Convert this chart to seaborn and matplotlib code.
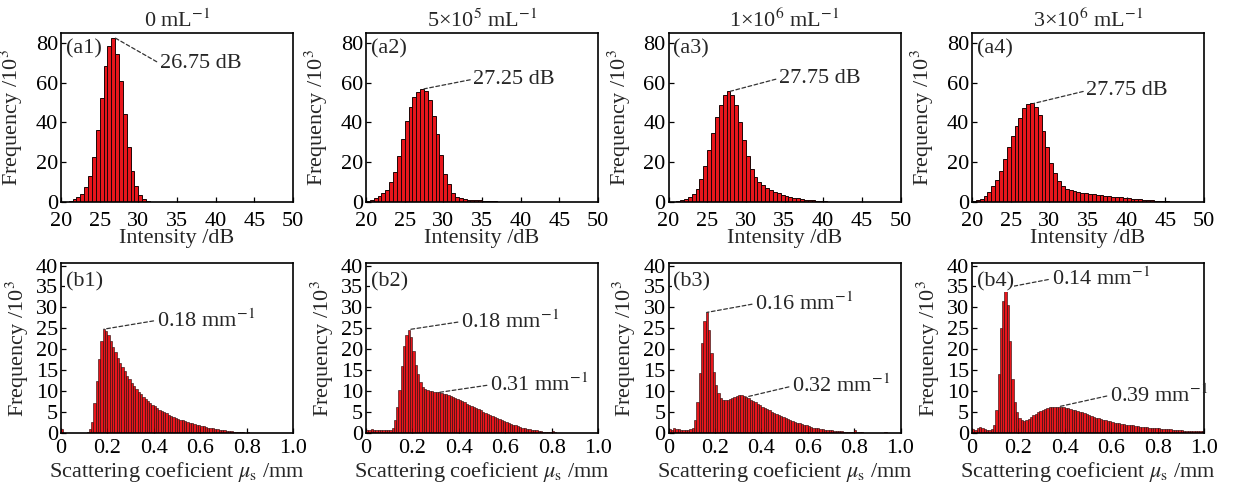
import numpy as np
import pandas as pd
import matplotlib
matplotlib.use("Agg")
import matplotlib.pyplot as plt
import seaborn as sns

# ---------------- data ----------------
titles = ["0 mL$^{-1}$", "5×10$^{5}$ mL$^{-1}$", "1×10$^{6}$ mL$^{-1}$", "3×10$^{6}$ mL$^{-1}$"]
top_tags = ["(a1)", "(a2)", "(a3)", "(a4)"]
bot_tags = ["(b1)", "(b2)", "(b3)", "(b4)"]

# intensity histograms: 0.5 dB bins starting at 20 dB (counts / 10^3)
a1 = [0, 0.2, 0.6, 1.4, 2.4, 4.0, 7.4, 13.0, 22.4, 36.2, 52.2, 68.5, 78.5, 82.5, 74.5, 60.7,
      44.5, 27.6, 15.6, 8.0, 3.7, 1.4, 0.6, 0.2]
a2 = [0.5, 0.8, 1.8, 3.0, 4.3, 6.2, 10.0, 15.2, 23.3, 31.8, 40.7, 48.0, 52.7, 55.4, 56.9, 55.7,
      51.4, 43.2, 34.0, 23.6, 14.0, 9.2, 4.7, 2.7, 1.8, 1.3, 1.1, 1.0, 0.9, 0.8, 0.7, 0.6, 0.5, 0.3, 0.1]
a3 = [0, 0.2, 0.5, 1.0, 1.7, 2.7, 3.8, 6.5, 11.4, 18.2, 26.4, 34.8, 42.8, 48.9, 53.6, 55.7,
      54.0, 48.9, 40.3, 31.1, 23.1, 16.4, 12.4, 10.0, 8.4, 7.0, 6.0, 5.2, 4.4, 3.7, 3.2, 2.7,
      2.2, 1.8, 1.5, 1.2, 1.0, 0.8, 0.7, 0.5, 0.3, 0.2, 0.1]
a4 = [0.3, 0.8, 1.7, 3.0, 5.0, 8.0, 11.0, 15.7, 21.6, 27.5, 33.3, 38.4, 42.2, 47.2, 49.2, 49.6,
      47.9, 44.0, 35.8, 27.5, 19.4, 14.4, 10.4, 8.2, 6.7, 5.9, 5.4, 5.0, 4.7, 4.4, 4.2, 4.0,
      3.7, 3.5, 3.2, 3.0, 2.7, 2.5, 2.3, 2.1, 1.9, 1.7, 1.5, 1.3, 1.1, 1.0, 0.8, 0.7, 0.5,
      0.4, 0.3, 0.2, 0.1]

# scattering coefficient histograms: 0.01 mm^-1 bins from 0 to 1 (counts / 10^3)
b1 = [0.9, 0, 0, 0, 0, 0, 0, 0, 0, 0, 0, 0.3, 1.0, 2.6, 7.2, 12.4, 17.7, 22.0, 24.8, 24.4,
      23.3, 22.0, 20.6, 19.3, 18.0, 16.8, 15.7, 14.7, 13.7, 12.8, 12.0, 11.2, 10.5, 9.9, 9.3,
      8.7, 8.2, 7.7, 7.2, 6.8, 6.4, 6.0, 5.6, 5.3, 5.0, 4.7, 4.4, 4.1, 3.9, 3.6, 3.4, 3.2,
      3.0, 2.8, 2.6, 2.4, 2.3, 2.1, 2.0, 1.8, 1.7, 1.6, 1.4, 1.3, 1.2, 1.1, 1.0, 0.9, 0.8,
      0.7, 0.6, 0.5, 0.45, 0.4, 0.35, 0.3, 0.25, 0.2, 0.15, 0.1, 0.3, 0.05, 0, 0, 0, 0, 0,
      0, 0, 0, 0, 0, 0, 0, 0, 0, 0, 0, 0, 0]
b2 = [0.8, 0.6, 0.9, 0.7, 0.6, 0.6, 0.6, 0.6, 0.6, 0.7, 0.8, 1.2, 3.0, 6.2, 10.2, 15.9, 20.7,
      23.5, 24.7, 23.0, 19.5, 16.3, 14.0, 12.2, 11.0, 10.4, 10.2, 10.1, 10.0, 9.9, 9.8, 9.7,
      9.5, 9.4, 9.2, 9.0, 8.8, 8.6, 8.4, 8.2, 7.9, 7.6, 7.3, 7.0, 6.7, 6.4, 6.2, 5.9, 5.7,
      5.4, 5.1, 4.8, 4.6, 4.3, 4.0, 3.8, 3.5, 3.3, 3.0, 2.8, 2.6, 2.4, 2.2, 2.0, 1.8, 1.6,
      1.5, 1.3, 1.1, 1.0, 0.9, 0.8, 0.7, 0.6, 0.5, 0.4, 0.35, 0.3, 0.25, 0.2, 0.5, 0.15, 0.1,
      0.1, 0.05, 0, 0, 0, 0, 0, 0, 0, 0, 0, 0, 0, 0, 0, 0, 0]
b3 = [0.9, 0.7, 1.2, 1.0, 0.9, 0.8, 0.7, 0.7, 0.8, 1.0, 1.3, 3.0, 7.4, 14.3, 21.5, 26.8, 28.8,
      24.5, 19.0, 14.5, 11.5, 9.6, 8.3, 7.8, 7.8, 8.0, 8.2, 8.4, 8.6, 8.9, 9.0, 9.0, 8.9, 8.6,
      8.3, 8.0, 7.7, 7.4, 7.0, 6.6, 6.3, 6.0, 5.7, 5.4, 5.1, 4.8, 4.5, 4.3, 4.0, 3.8, 3.6,
      3.3, 3.1, 2.9, 2.7, 2.5, 2.3, 2.1, 1.9, 1.8, 1.6, 1.5, 1.3, 1.2, 1.1, 1.0, 0.9, 0.8,
      0.75, 0.7, 0.6, 0.55, 0.5, 0.45, 0.4, 0.35, 0.3, 0.3, 0.25, 0.2, 0.8, 0.2, 0.15, 0.15,
      0.1, 0.1, 0.1, 0.05, 0.05, 0.05, 0.05, 0.05, 0.05, 0.3, 0, 0, 0, 0, 0, 0]
b4 = [1.0, 0.8, 1.2, 1.5, 1.1, 0.9, 0.8, 0.8, 1.0, 1.8, 5.5, 14.0, 25.0, 31.5, 34.7, 30.5,
      22.0, 13.0, 7.5, 5.0, 3.6, 3.0, 2.9, 3.1, 3.4, 3.8, 4.2, 4.6, 5.0, 5.3, 5.6, 5.8, 6.0,
      6.1, 6.2, 6.3, 6.3, 6.3, 6.2, 6.1, 6.0, 5.9, 5.8, 5.6, 5.5, 5.3, 5.1, 4.9, 4.7, 4.5,
      4.3, 4.1, 3.9, 3.7, 3.5, 3.3, 3.2, 3.0, 2.9, 2.8, 2.6, 2.5, 2.4, 2.3, 2.2, 2.1, 2.0,
      1.9, 1.85, 1.8, 1.7, 1.6, 1.55, 1.5, 1.4, 1.35, 1.3, 1.25, 1.2, 1.15, 1.1, 1.05, 1.0,
      0.95, 0.9, 0.85, 0.8, 0.75, 0.7, 0.65, 0.6, 0.58, 0.55, 0.52, 0.5, 0.47, 0.45, 0.42,
      0.4, 0.38]

top_data = [a1, a2, a3, a4]
bot_data = [b1, b2, b3, b4]

# annotated peaks: (label, peak position, text x, text y)
top_notes = [[("26.75 dB", 26.75, 32.8, 69.6)],
             [("27.25 dB", 27.25, 33.9, 61.8)],
             [("27.75 dB", 27.75, 34.3, 62.2)],
             [("27.75 dB", 27.75, 34.8, 56.0)]]
bot_notes = [[("0.18 mm$^{-1}$", 0.18, 0.413, 26.9)],
             [("0.18 mm$^{-1}$", 0.18, 0.41, 26.6), ("0.31 mm$^{-1}$", 0.31, 0.535, 11.5)],
             [("0.16 mm$^{-1}$", 0.16, 0.374, 30.9), ("0.32 mm$^{-1}$", 0.33, 0.533, 11.2)],
             [("0.14 mm$^{-1}$", 0.14, 0.343, 36.8), ("0.39 mm$^{-1}$", 0.37, 0.595, 9.0)]]

a_edges = [20.0 + 0.5 * k for k in range(61)]
b_edges = [0.01 * k for k in range(101)]

# ---------------- style ----------------
sns.set_theme(style="white")
plt.rcParams["font.family"] = ["Liberation Serif", "DejaVu Serif"]
plt.rcParams["mathtext.fontset"] = "stix"
plt.rcParams["axes.edgecolor"] = "black"
plt.rcParams["axes.linewidth"] = 1.2
FS = 16
RED = "#e8161c"
EDGE = "#1e0505"

fig = plt.figure(figsize=(12.35, 4.88), dpi=100)
W, H = 1235.0, 488.0
col_left = [61, 366, 668.5, 972]
ax_w = 232

def style_axis(ax, xpad):
    ax.tick_params(axis="both", direction="in", length=3.5, width=0.9, colors="black",
                   labelsize=FS, top=False, right=False, bottom=True, left=True)
    ax.tick_params(axis="x", pad=xpad)
    ax.tick_params(axis="y", pad=2)
    for s in ax.spines.values():
        s.set_linewidth(1.2)
        s.set_color("black")

def annotate(ax, label, xy, xytext):
    ax.annotate(label, xy=xy, xytext=xytext, textcoords="data", ha="left", va="center",
                fontsize=FS, zorder=6,
                arrowprops=dict(arrowstyle="-", linestyle=(0, (3, 2)), lw=0.9, color="#333333",
                                shrinkA=0, shrinkB=0, relpos=(0, 0.5)))

for i in range(4):
    # ---------- top row ----------
    ax = fig.add_axes([col_left[i] / W, (H - 202) / H, ax_w / W, 169 / H])
    counts = np.array(top_data[i], dtype=float)
    df = pd.DataFrame({"x": np.array(a_edges[:len(counts)]) + 0.25, "w": counts})
    sns.histplot(data=df, x="x", weights="w", bins=a_edges, stat="count", ax=ax,
                 color=RED, edgecolor=EDGE, linewidth=0.7, alpha=1)
    ax.set_xlim(20, 50)
    ax.set_ylim(0, 85)
    ax.set_xticks([20, 25, 30, 35, 40, 45, 50])
    ax.set_yticks([0, 20, 40, 60, 80])
    style_axis(ax, 7)
    ax.set_xlabel("Intensity /dB", fontsize=FS, labelpad=-1)
    ax.set_ylabel("Frequency /10$^{3}$", fontsize=FS)
    ax.yaxis.set_label_coords(-0.155, 0.5)
    ax.set_title(titles[i], fontsize=FS, pad=4)
    ax.text(0.02, 0.905, top_tags[i], transform=ax.transAxes, fontsize=FS,
            ha="left", va="center", zorder=7)
    for label, px, tx, ty in top_notes[i]:
        k = int(np.searchsorted(a_edges, px, side="right") - 1)
        annotate(ax, label, (px + 0.25, counts[k]), (tx, ty))

    # ---------- bottom row ----------
    ax = fig.add_axes([col_left[i] / W, (H - 433) / H, ax_w / W, 170 / H])
    counts = np.array(bot_data[i], dtype=float)
    df = pd.DataFrame({"x": np.array(b_edges[:len(counts)]) + 0.005, "w": counts})
    sns.histplot(data=df, x="x", weights="w", bins=b_edges, stat="count", ax=ax,
                 color=RED, edgecolor=EDGE, linewidth=0.4, alpha=1)
    ax.set_xlim(0, 1)
    ax.set_ylim(0, 40.6)
    ax.set_xticks([0, 0.2, 0.4, 0.6, 0.8, 1.0])
    ax.set_xticklabels(["0", "0.2", "0.4", "0.6", "0.8", "1.0"])
    ax.set_yticks([0, 5, 10, 15, 20, 25, 30, 35, 40])
    style_axis(ax, 4.5)
    ax.set_xlabel("Scattering coeficient $\\mu_\\mathrm{s}$ /mm", fontsize=FS, labelpad=1)
    ax.set_ylabel("Frequency /10$^{3}$", fontsize=FS)
    ax.yaxis.set_label_coords(-0.13, 0.5)
    ax.text(0.02, 0.89, bot_tags[i], transform=ax.transAxes, fontsize=FS,
            ha="left", va="center", zorder=7,
            bbox=dict(facecolor="white", edgecolor="none", pad=0.5))
    for label, px, tx, ty in bot_notes[i]:
        k = int(np.searchsorted(b_edges, px + 1e-9, side="right") - 1)
        annotate(ax, label, (px + 0.005, counts[k]), (tx, ty))

fig.savefig("out.png", dpi=100)
